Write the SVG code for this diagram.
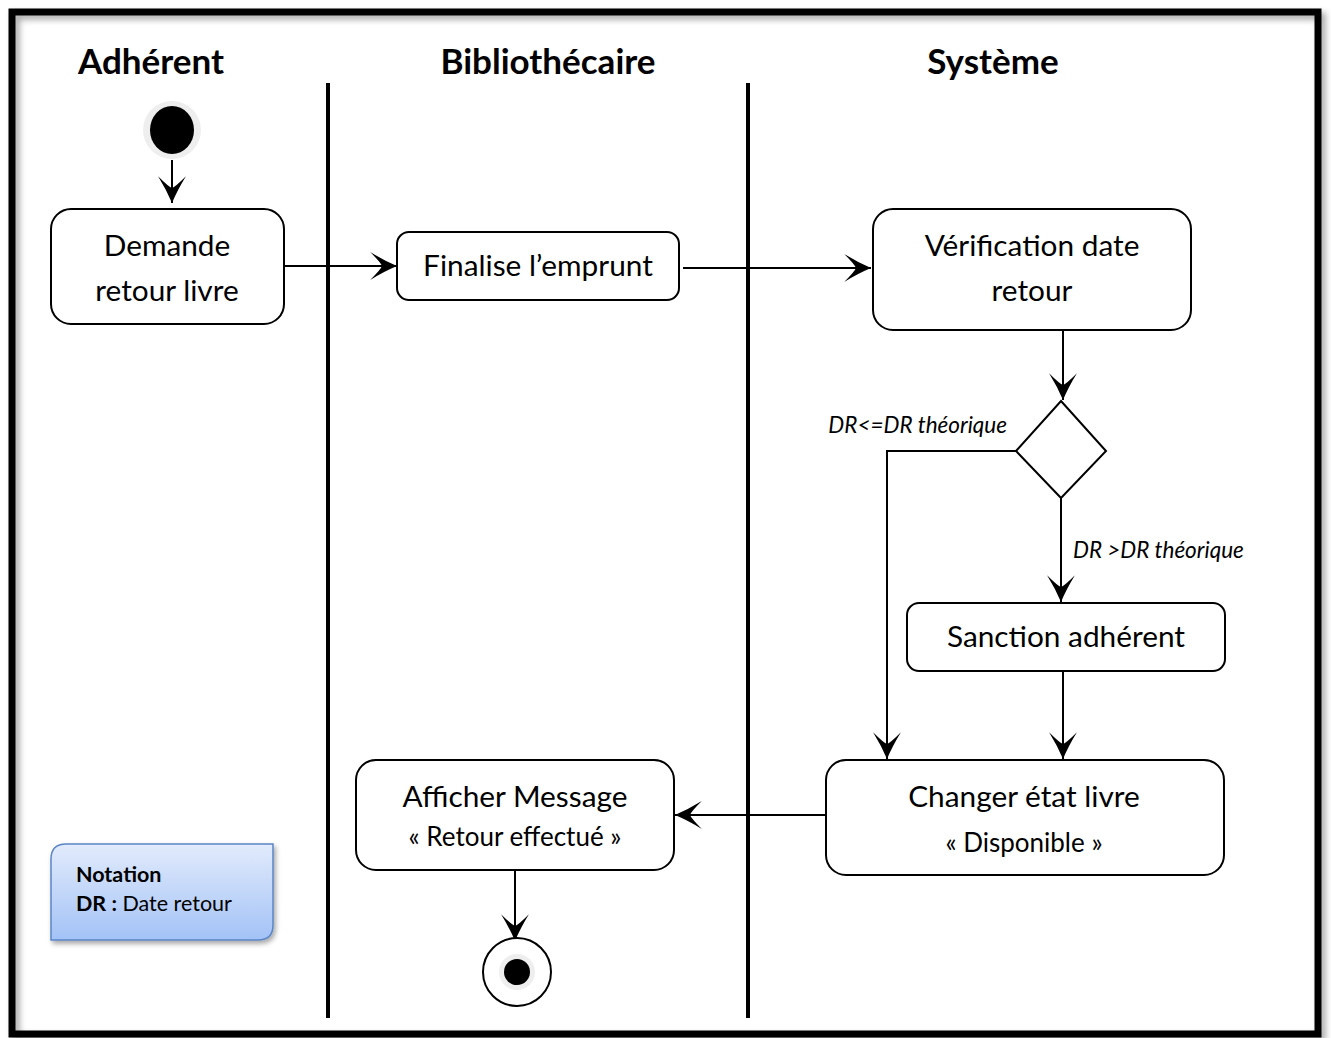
<svg xmlns="http://www.w3.org/2000/svg" width="1331" height="1038" viewBox="0 0 1331 1038">
  <defs>
    <style>
      .lane-title { font-family: Lato, "Open Sans", "Liberation Sans", sans-serif; font-weight: bold; font-size: 35px; fill: #000; text-anchor: middle; }
      .act { fill: #fff; stroke: #000; stroke-width: 2; }
      .label { font-family: Lato, "Open Sans", "Liberation Sans", sans-serif; font-size: 29.8px; fill: #000; text-anchor: middle; }
      .sub { font-size: 26px; }
      .guard { font-family: Lato, "Open Sans", "Liberation Sans", sans-serif; font-style: italic; font-size: 22.5px; fill: #000; }
      .flow { fill: none; stroke: #000; stroke-width: 2; }
      .lane { stroke: #000; stroke-width: 4; }
      .note { font-family: Lato, "Open Sans", "Liberation Sans", sans-serif; font-size: 21.5px; fill: #000; }
    </style>
    <marker id="arrow" markerUnits="userSpaceOnUse" markerWidth="30" markerHeight="30" viewBox="-26 -14 28 28" refX="0" refY="0" orient="auto">
      <path d="M0,0 Q-12,-5 -25,-13 Q-15,-3 -14,0 Q-15,3 -25,13 Q-12,5 0,0 Z" fill="#000"/>
    </marker>
    <linearGradient id="noteFill" x1="0" y1="0" x2="0" y2="1">
      <stop offset="0" stop-color="#e2ebfc"/>
      <stop offset="1" stop-color="#a3c2f6"/>
    </linearGradient>
    <filter id="frameShadow" x="-5%" y="-5%" width="110%" height="110%">
      <feDropShadow dx="4" dy="4" stdDeviation="3" flood-color="#000" flood-opacity="0.35"/>
    </filter>
    <filter id="noteShadow" x="-10%" y="-10%" width="125%" height="130%">
      <feDropShadow dx="2" dy="3" stdDeviation="2.5" flood-color="#000" flood-opacity="0.35"/>
    </filter>
  </defs>

  <rect width="1331" height="1038" fill="#fff"/>

  <!-- outer frame -->
  <rect x="12" y="12" width="1306" height="1022" fill="none" stroke="#000" stroke-width="7" filter="url(#frameShadow)"/>

  <!-- swimlanes -->
  <g id="lanes">
    <line class="lane" x1="328" y1="83" x2="328" y2="1018"/>
    <line class="lane" x1="748" y1="83" x2="748" y2="1018"/>
    <text class="lane-title" x="151" y="74">Adhérent</text>
    <text class="lane-title" x="548" y="74">Bibliothécaire</text>
    <text class="lane-title" x="993" y="74">Système</text>
  </g>

  <!-- connectors -->
  <g id="connectors">
    <line class="flow" x1="172" y1="160" x2="172" y2="203" marker-end="url(#arrow)"/>
    <line class="flow" x1="284" y1="266" x2="397" y2="266" marker-end="url(#arrow)"/>
    <line class="flow" x1="683" y1="268" x2="871" y2="268" marker-end="url(#arrow)"/>
    <line class="flow" x1="1063" y1="331" x2="1063" y2="400" marker-end="url(#arrow)"/>
    <polyline class="flow" points="1016,451 887,451 887,759" marker-end="url(#arrow)"/>
    <line class="flow" x1="1061" y1="498" x2="1061" y2="602" marker-end="url(#arrow)"/>
    <line class="flow" x1="1063" y1="672" x2="1063" y2="759" marker-end="url(#arrow)"/>
    <line class="flow" x1="826" y1="815" x2="675" y2="815" marker-end="url(#arrow)"/>
    <line class="flow" x1="515" y1="871" x2="515" y2="941" marker-end="url(#arrow)"/>
    <text class="guard" x="1007" y="433" text-anchor="end">DR&lt;=DR théorique</text>
    <text class="guard" x="1073" y="558">DR &gt;DR théorique</text>
  </g>

  <!-- start -->
  <g id="start">
    <circle cx="172" cy="130" r="29" fill="#eeeeee"/>
    <ellipse cx="172" cy="130" rx="22" ry="24" fill="#000"/>
  </g>

  <g id="demande">
    <rect class="act" x="51" y="209" width="233" height="115" rx="20"/>
    <text class="label" x="167" y="256">Demande</text>
    <text class="label" x="167" y="301">retour livre</text>
  </g>

  <g id="finalise">
    <rect class="act" x="397" y="232" width="282" height="68" rx="12"/>
    <text class="label" x="538" y="276">Finalise l’emprunt</text>
  </g>

  <g id="verification">
    <rect class="act" x="873" y="209" width="318" height="121" rx="20"/>
    <text class="label" x="1032" y="256">Vérification date</text>
    <text class="label" x="1032" y="301">retour</text>
  </g>

  <g id="decision">
    <polygon class="act" points="1061,401 1106,451 1061,498 1016,451"/>
  </g>

  <g id="sanction">
    <rect class="act" x="907" y="603" width="318" height="68" rx="12"/>
    <text class="label" x="1066" y="647">Sanction adhérent</text>
  </g>

  <g id="changer">
    <rect class="act" x="826" y="760" width="398" height="115" rx="20"/>
    <text class="label" x="1024" y="807">Changer état livre</text>
    <text class="label sub" x="1024" y="852">« Disponible »</text>
  </g>

  <g id="afficher">
    <rect class="act" x="356" y="760" width="318" height="110" rx="20"/>
    <text class="label" x="515" y="807">Afficher Message</text>
    <text class="label sub" x="515" y="846">« Retour effectué »</text>
  </g>

  <g id="end">
    <circle cx="517" cy="972" r="34" fill="#fff" stroke="#000" stroke-width="2"/>
    <circle cx="517" cy="972" r="18" fill="#eeeeee"/>
    <circle cx="517" cy="972" r="13" fill="#000"/>
  </g>

  <g id="notation">
    <path d="M66,844 H273 V925 Q273,940 258,940 H51 V859 Q51,844 66,844 Z" fill="url(#noteFill)" stroke="#5b85c6" stroke-width="1.5" filter="url(#noteShadow)"/>
    <text class="note" x="76" y="882" font-weight="bold">Notation</text>
    <text class="note" x="76" y="911"><tspan font-weight="bold">DR :</tspan> Date retour</text>
  </g>
</svg>
